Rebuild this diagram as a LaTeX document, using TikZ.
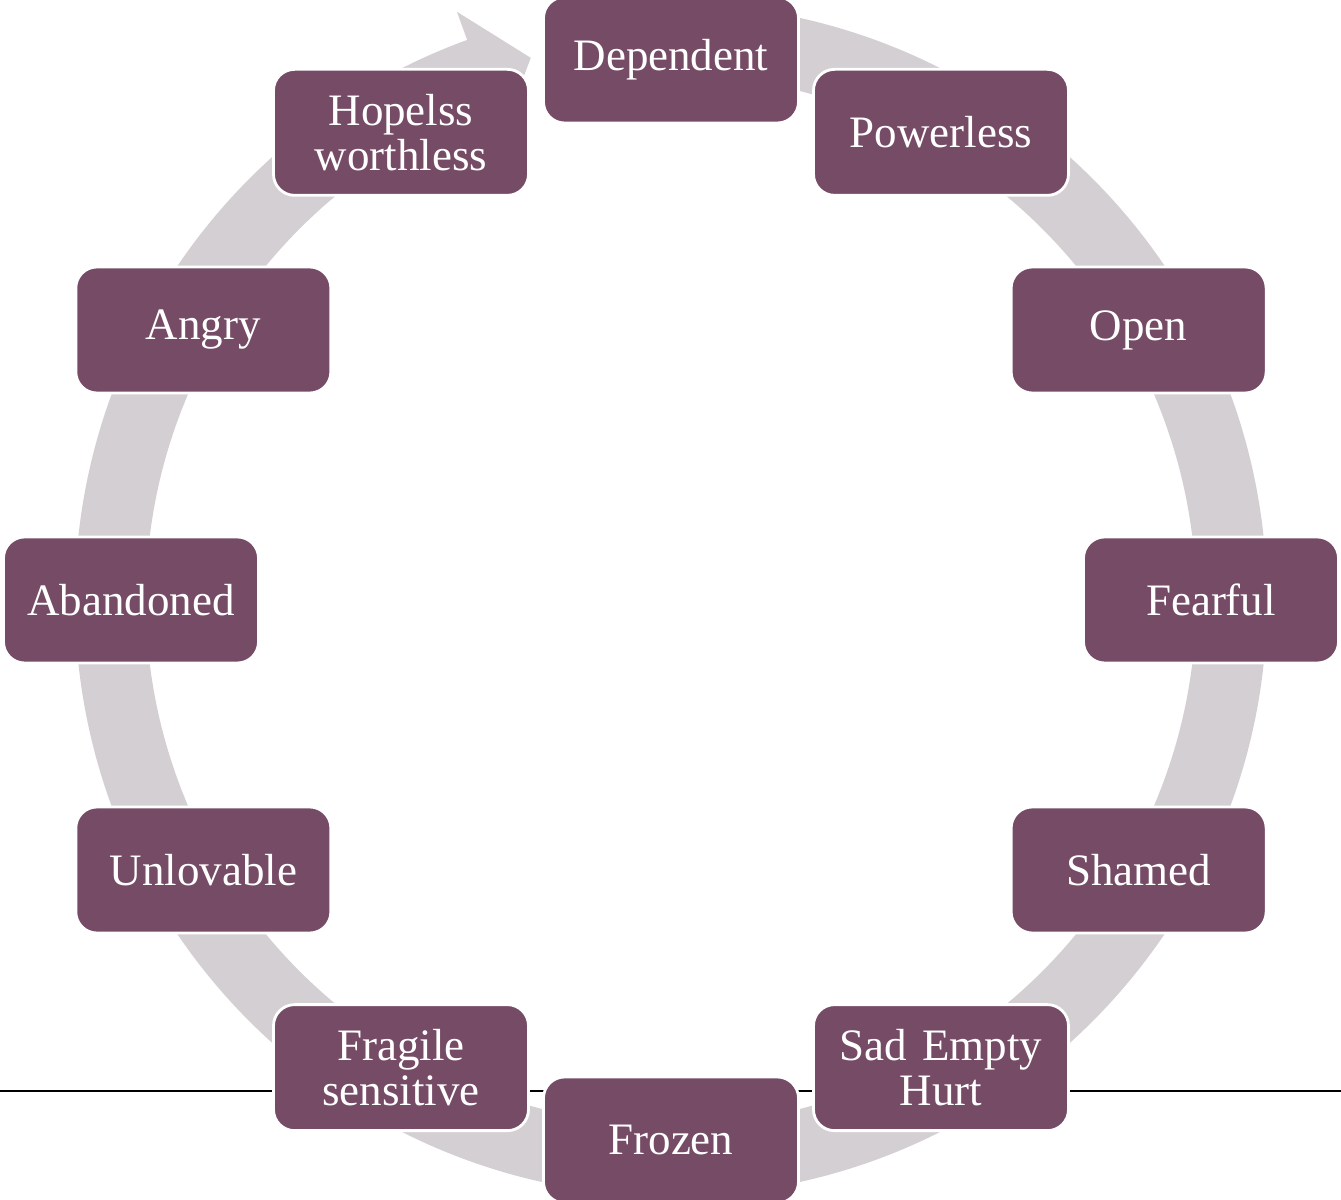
\documentclass[tikz,border=0pt]{standalone}
\usepackage{fontspec}
\setmainfont{Liberation Serif}
\usepackage{xcolor}
\definecolor{plum}{RGB}{117,75,101}
\definecolor{ringgray}{RGB}{212,207,211}

\begin{document}
\begin{tikzpicture}[
  stage/.style={
    draw=white, fill=plum, rounded corners=6pt,
    minimum width=25.5mm, minimum height=12.6mm, text width=24mm,
    inner sep=0pt, align=center, text=white, line width=0.8pt,
    font=\fontsize{12.8}{12.8}\selectfont
  },
  ring/.style={
    fill=ringgray
  },
  rule/.style={
    draw=black, line width=0.6pt
  }
]
\useasboundingbox (0,0) rectangle (13.41,12);
\coordinate (c) at (6.71,6.0);

% Ring arrow behind the stages
\fill[ring] ([shift={(95:5.96)}]c) arc[start angle=95, end angle=-250, radius=5.96]
  -- ([shift={(110:6.26)}]c) -- ([shift={(104.5:5.6)}]c) -- ([shift={(110:4.95)}]c)
  -- ([shift={(110:5.25)}]c) arc[start angle=-250, end angle=95, radius=5.25] -- cycle;

% Rule across the bottom
\coordinate (rule west) at (0,1.09);
\coordinate (rule east) at (13.41,1.09);
\draw[rule] (rule west) -- (rule east);

% Stages, clockwise from the top
\node[stage] (dependent) at ([shift={(90:5.4)}]c) {Dependent};
\node[stage] (powerless) at ([shift={(60:5.4)}]c) {Powerless};
\node[stage] (open) at ([shift={(30:5.4)}]c) {Open};
\node[stage] (fearful) at ([shift={(0:5.4)}]c) {Fearful};
\node[stage] (shamed) at ([shift={(-30:5.4)}]c) {Shamed};
\node[stage] (sad) at ([shift={(-60:5.4)}]c) {Sad Empty\\Hurt};
\node[stage] (frozen) at ([shift={(-90:5.4)}]c) {Frozen};
\node[stage] (fragile) at ([shift={(-120:5.4)}]c) {Fragile\\sensitive};
\node[stage] (unlovable) at ([shift={(-150:5.4)}]c) {Unlovable};
\node[stage] (abandoned) at ([shift={(180:5.4)}]c) {Abandoned};
\node[stage] (angry) at ([shift={(150:5.4)}]c) {Angry};
\node[stage] (hopeless) at ([shift={(120:5.4)}]c) {Hopelss\\worthless};

\end{tikzpicture}
\end{document}
